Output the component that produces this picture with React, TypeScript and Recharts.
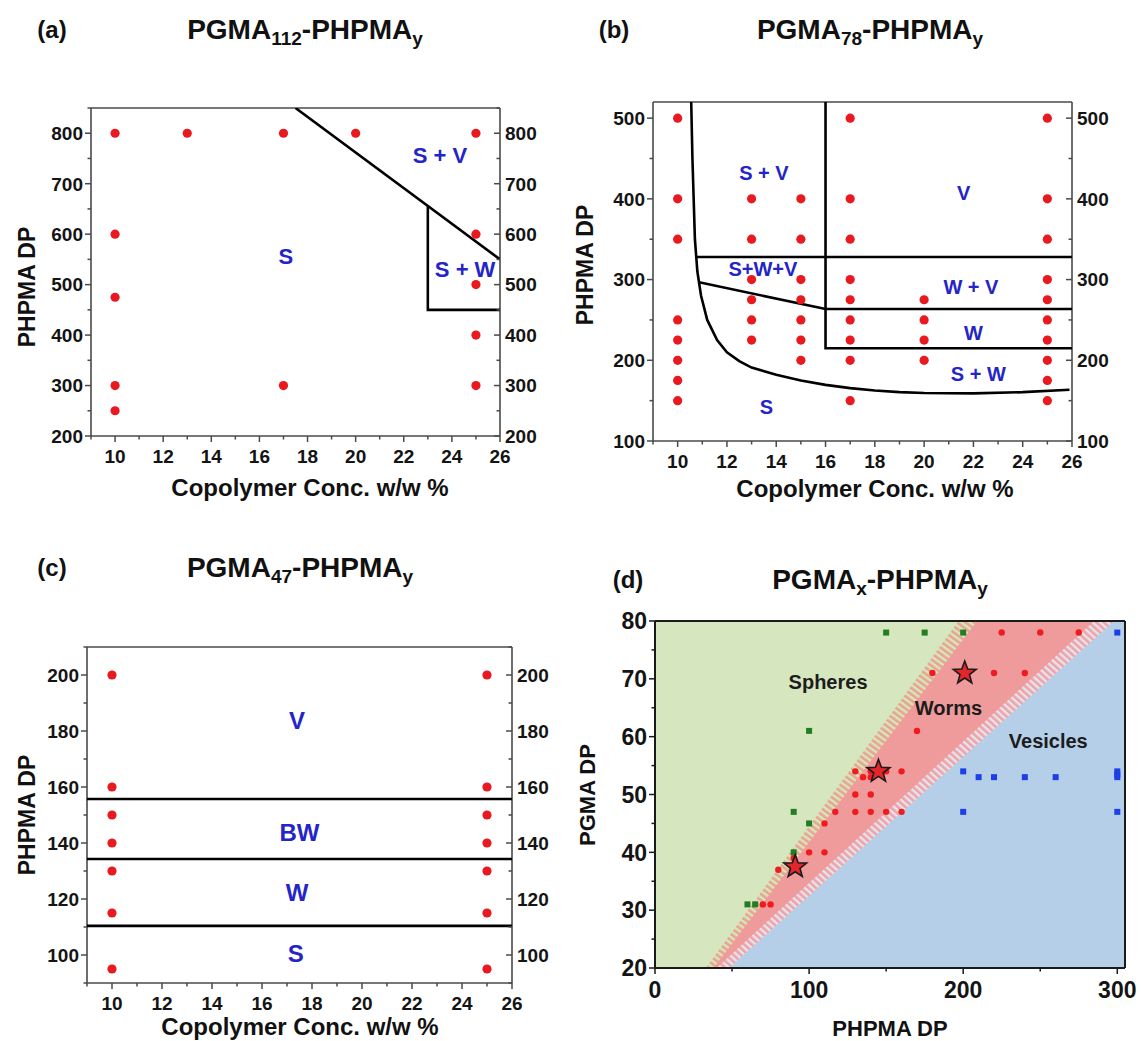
import React from "react";
import { ComposedChart, Scatter, Area, XAxis, YAxis } from "recharts";

const FONT = '"Liberation Sans", Arial, Helvetica, sans-serif';
const DOT_RED = "#e8191f";
const LABEL_BLUE = "#2424c8";
const FRAME = "#4a4a4a";

type Pt = { x: number; y: number };
type Lbl = Pt & { text: string };

// ---------- shared axis ticks for panels a-c ----------
const concTicks = [9, 10, 11, 12, 13, 14, 15, 16, 17, 18, 19, 20, 21, 22, 23, 24, 25, 26];
const concMajor = [10, 12, 14, 16, 18, 20, 22, 24, 26];

// ---------- (a) PGMA112-PHPMAy ----------
const aDpTicks = [200, 250, 300, 350, 400, 450, 500, 550, 600, 650, 700, 750, 800, 850];
const aDpMajor = [200, 300, 400, 500, 600, 700, 800];
const aPoints: Pt[] = [
  { x: 10, y: 800 }, { x: 13, y: 800 }, { x: 17, y: 800 }, { x: 20, y: 800 }, { x: 25, y: 800 },
  { x: 10, y: 600 }, { x: 10, y: 475 }, { x: 10, y: 300 }, { x: 10, y: 250 },
  { x: 17, y: 300 },
  { x: 25, y: 600 }, { x: 25, y: 500 }, { x: 25, y: 400 }, { x: 25, y: 300 },
];
const aDiagonal: Pt[] = [{ x: 17.5, y: 850 }, { x: 26, y: 550 }];
const aWormBox: Pt[] = [{ x: 23, y: 657 }, { x: 23, y: 450 }, { x: 26, y: 450 }];
const aLabels: Lbl[] = [
  { x: 23.5, y: 757, text: "S + V" },
  { x: 17.1, y: 557, text: "S" },
  { x: 24.55, y: 530, text: "S + W" },
];

// ---------- (b) PGMA78-PHPMAy ----------
const bDpTicks = [100, 150, 200, 250, 300, 350, 400, 450, 500];
const bDpMajor = [100, 200, 300, 400, 500];
const bPoints: Pt[] = [
  { x: 10, y: 500 }, { x: 10, y: 400 }, { x: 10, y: 350 }, { x: 10, y: 250 }, { x: 10, y: 225 },
  { x: 10, y: 200 }, { x: 10, y: 175 }, { x: 10, y: 150 },
  { x: 13, y: 400 }, { x: 13, y: 350 }, { x: 13, y: 300 }, { x: 13, y: 275 }, { x: 13, y: 250 }, { x: 13, y: 225 },
  { x: 15, y: 400 }, { x: 15, y: 350 }, { x: 15, y: 300 }, { x: 15, y: 275 }, { x: 15, y: 250 },
  { x: 15, y: 225 }, { x: 15, y: 200 },
  { x: 17, y: 500 }, { x: 17, y: 400 }, { x: 17, y: 350 }, { x: 17, y: 300 }, { x: 17, y: 275 },
  { x: 17, y: 250 }, { x: 17, y: 225 }, { x: 17, y: 200 }, { x: 17, y: 150 },
  { x: 20, y: 275 }, { x: 20, y: 250 }, { x: 20, y: 225 }, { x: 20, y: 200 },
  { x: 25, y: 500 }, { x: 25, y: 400 }, { x: 25, y: 350 }, { x: 25, y: 300 }, { x: 25, y: 275 },
  { x: 25, y: 250 }, { x: 25, y: 225 }, { x: 25, y: 200 }, { x: 25, y: 175 }, { x: 25, y: 150 },
];
const bSphereCurve: Pt[] = [
  { x: 10.55, y: 520 }, { x: 10.6, y: 450 }, { x: 10.65, y: 400 }, { x: 10.7, y: 350 },
  { x: 10.8, y: 310 }, { x: 10.95, y: 280 }, { x: 11.2, y: 250 }, { x: 11.6, y: 225 },
  { x: 12.0, y: 210 }, { x: 12.5, y: 199 }, { x: 13, y: 191 }, { x: 14, y: 182 },
  { x: 15, y: 175 }, { x: 16, y: 169.5 }, { x: 17, y: 165.5 }, { x: 18, y: 162.5 },
  { x: 19, y: 160.5 }, { x: 20, y: 159.5 }, { x: 22, y: 159 }, { x: 24, y: 160.5 }, { x: 25.9, y: 163.5 },
];
const bUpper: Pt[] = [{ x: 10.76, y: 328 }, { x: 26, y: 328 }];
const bMiddle: Pt[] = [{ x: 10.87, y: 296.6 }, { x: 16, y: 263.5 }, { x: 26, y: 263.5 }];
const bWormBox: Pt[] = [{ x: 16, y: 520 }, { x: 16, y: 215 }, { x: 26, y: 215 }];
const bLabels: Lbl[] = [
  { x: 13.5, y: 432, text: "S + V" },
  { x: 21.6, y: 408, text: "V" },
  { x: 13.46, y: 313, text: "S+W+V" },
  { x: 21.9, y: 291.5, text: "W + V" },
  { x: 22.0, y: 234.5, text: "W" },
  { x: 22.2, y: 183, text: "S + W" },
  { x: 13.6, y: 142.5, text: "S" },
];

// ---------- (c) PGMA47-PHPMAy ----------
const cDpTicks = [90, 100, 110, 120, 130, 140, 150, 160, 170, 180, 190, 200, 210];
const cDpMajor = [100, 120, 140, 160, 180, 200];
const cPoints: Pt[] = [
  { x: 10, y: 200 }, { x: 10, y: 160 }, { x: 10, y: 150 }, { x: 10, y: 140 }, { x: 10, y: 130 },
  { x: 10, y: 115 }, { x: 10, y: 95 },
  { x: 25, y: 200 }, { x: 25, y: 160 }, { x: 25, y: 150 }, { x: 25, y: 140 }, { x: 25, y: 130 },
  { x: 25, y: 115 }, { x: 25, y: 95 },
];
const cVesicleLine: Pt[] = [{ x: 9, y: 155.7 }, { x: 26, y: 155.7 }];
const cBranchLine: Pt[] = [{ x: 9, y: 134.3 }, { x: 26, y: 134.3 }];
const cWormLine: Pt[] = [{ x: 9, y: 110.4 }, { x: 26, y: 110.4 }];
const cLabels: Lbl[] = [
  { x: 17.4, y: 183.7, text: "V" },
  { x: 17.5, y: 143.8, text: "BW" },
  { x: 17.4, y: 122.2, text: "W" },
  { x: 17.35, y: 100.6, text: "S" },
];

// ---------- (d) PGMAx-PHPMAy ----------
const dXTicks = [0, 50, 100, 150, 200, 250, 300];
const dXMajor = [0, 100, 200, 300];
const dYTicks = [20, 25, 30, 35, 40, 45, 50, 55, 60, 65, 70, 75, 80];
const dYMajor = [20, 30, 40, 50, 60, 70, 80];
// region edges (each area is filled from y=20 up to the edge)
const greenField: Pt[] = [{ x: 0, y: 80 }, { x: 305, y: 80 }];
const sphereEdge: Pt[] = [{ x: 33, y: 20 }, { x: 197, y: 80 }, { x: 305, y: 80 }];
const wormEdge: Pt[] = [{ x: 38, y: 20 }, { x: 209, y: 80 }, { x: 305, y: 80 }];
const wormOuterEdge: Pt[] = [{ x: 40, y: 20 }, { x: 285, y: 80 }, { x: 305, y: 80 }];
const vesicleEdge: Pt[] = [{ x: 48, y: 20 }, { x: 298, y: 80 }, { x: 305, y: 80 }];
const spheresPts: Pt[] = [
  { x: 150, y: 78 }, { x: 175, y: 78 }, { x: 200, y: 78 }, { x: 100, y: 61 }, { x: 90, y: 47 },
  { x: 100, y: 45 }, { x: 90, y: 40 }, { x: 60, y: 31 }, { x: 65, y: 31 },
];
const wormsPts: Pt[] = [
  { x: 225, y: 78 }, { x: 250, y: 78 }, { x: 275, y: 78 }, { x: 180, y: 71 }, { x: 220, y: 71 },
  { x: 240, y: 71 }, { x: 170, y: 61 }, { x: 130, y: 54 }, { x: 140, y: 54 }, { x: 150, y: 54 },
  { x: 160, y: 54 }, { x: 135, y: 53 }, { x: 140, y: 53 }, { x: 130, y: 50 }, { x: 140, y: 50 },
  { x: 117, y: 47 }, { x: 130, y: 47 }, { x: 140, y: 47 }, { x: 150, y: 47 }, { x: 160, y: 47 },
  { x: 110, y: 45 }, { x: 100, y: 40 }, { x: 110, y: 40 }, { x: 90, y: 39 }, { x: 80, y: 37 },
  { x: 70, y: 31 }, { x: 75, y: 31 },
];
const vesiclesPts: Pt[] = [
  { x: 300, y: 78 }, { x: 200, y: 54 }, { x: 210, y: 53 }, { x: 220, y: 53 }, { x: 240, y: 53 },
  { x: 260, y: 53 }, { x: 300, y: 54 }, { x: 300, y: 53.5 }, { x: 300, y: 53 }, { x: 200, y: 47 },
  { x: 300, y: 47 },
];
const starPts: Pt[] = [{ x: 91, y: 37.5 }, { x: 145, y: 54 }, { x: 201, y: 71 }];
const dLabels: Lbl[] = [
  { x: 112.3, y: 69.5, text: "Spheres" },
  { x: 190.4, y: 65, text: "Worms" },
  { x: 255.2, y: 59.2, text: "Vesicles" },
];

const regionSeries: Record<string, Pt[]> = {
  e0: greenField,
  e1: sphereEdge,
  e2: wormEdge,
  e3: wormOuterEdge,
  e4: vesicleEdge,
};
const regionXs = Array.from(
  new Set(Object.values(regionSeries).flat().map((p) => p.x))
).sort((a, b) => a - b);
const dTable = regionXs.map((x) => {
  const row: Record<string, number> = { x };
  Object.entries(regionSeries).forEach(([k, pts]) => {
    const hit = pts.find((p) => p.x === x);
    if (hit) row[k] = hit.y;
  });
  return row;
});

// ---------- helpers ----------
interface TickProps {
  x?: number;
  y?: number;
  payload?: { value: number };
  side: "left" | "right" | "top" | "bottom";
  majors: number[];
  size: number;
  inward?: boolean;
  color?: string;
}

// Origin-style tick: draws its own tick mark (long for majors, short for minors)
// tickSize/tickMargin are 0, so x/y is the point on the axis line.
function OriginTick({ x = 0, y = 0, payload, side, majors, size, inward = false, color = FRAME }: TickProps) {
  const v = payload?.value ?? 0;
  const major = majors.includes(v);
  const len = major ? 6 : 3.5;
  const out = inward ? -1 : 1;
  const textProps = {
    fontFamily: FONT,
    fontWeight: 700,
    fontSize: size,
    fill: "#141414",
  };
  let x2 = x;
  let y2 = y;
  let label: React.ReactNode = null;
  if (side === "left") {
    x2 = x - out * len;
    if (major)
      label = (
        <text x={x - (inward ? 4 : len + 2)} y={y} dy="0.36em" textAnchor="end" {...textProps}>
          {v}
        </text>
      );
  } else if (side === "right") {
    x2 = x + out * len;
    if (major)
      label = (
        <text x={x + (inward ? 5 : len + 3)} y={y} dy="0.36em" textAnchor="start" {...textProps}>
          {v}
        </text>
      );
  } else if (side === "bottom") {
    y2 = y + out * len;
    if (major)
      label = (
        <text x={x} y={y + (inward ? 8 : len + 7)} dy="0.72em" textAnchor="middle" {...textProps}>
          {v}
        </text>
      );
  } else {
    y2 = y - out * len;
    if (major)
      label = (
        <text x={x} y={y - (inward ? 8 : len + 5)} textAnchor="middle" {...textProps}>
          {v}
        </text>
      );
  }
  return (
    <g>
      <line x1={x} y1={y} x2={x2} y2={y2} stroke={color} strokeWidth={1.5} />
      {label}
    </g>
  );
}

const NoMark = () => <g />;

function Txt({
  x,
  y,
  size,
  rotate = false,
  children,
}: {
  x: number;
  y: number;
  size: number;
  rotate?: boolean;
  children: React.ReactNode;
}) {
  return (
    <div
      style={{
        position: "absolute",
        left: x,
        top: y,
        transform: `translate(-50%, -50%)${rotate ? " rotate(-90deg)" : ""}`,
        fontFamily: FONT,
        fontWeight: 700,
        fontSize: size,
        lineHeight: 1,
        whiteSpace: "nowrap",
        color: "#111",
      }}
    >
      {children}
    </div>
  );
}

function Title({ x, y, pre, sub1, sub2 }: { x: number; y: number; pre: string; sub1: string; sub2: string }) {
  return (
    <Txt x={x} y={y} size={28}>
      {pre}
      <sub style={{ fontSize: 19 }}>{sub1}</sub>-PHPMA<sub style={{ fontSize: 19 }}>{sub2}</sub>
    </Txt>
  );
}

interface Box {
  l: number;
  t: number;
  w: number;
  h: number;
}

function PhasePanel({
  box,
  yDomain,
  yTicks,
  yMajor,
  points,
  boundaries,
  labels,
  labelSize,
}: {
  box: Box;
  yDomain: [number, number];
  yTicks: number[];
  yMajor: number[];
  points: Pt[];
  boundaries: Pt[][];
  labels: Lbl[];
  labelSize: number;
}) {
  const aw = 60;
  const ah = 40;
  const axisLine = { stroke: FRAME, strokeWidth: 1.6 };
  const common = {
    type: "number" as const,
    allowDataOverflow: true,
    interval: 0 as const,
    tickSize: 0,
    tickMargin: 0,
    tickLine: false,
    axisLine,
  };
  return (
    <div style={{ position: "absolute", left: box.l - aw, top: box.t - ah }}>
      <ComposedChart width={box.w + 2 * aw} height={box.h + 2 * ah} margin={{ top: 0, right: 0, bottom: 0, left: 0 }}>
        <XAxis
          {...common}
          dataKey="x"
          domain={[9, 26]}
          ticks={concTicks}
          height={ah}
          orientation="bottom"
          tick={<OriginTick side="bottom" majors={concMajor} size={19} />}
        />
        <XAxis
          {...common}
          xAxisId="top"
          domain={[9, 26]}
          ticks={concTicks}
          height={ah}
          orientation="top"
          tick={<OriginTick side="top" inward majors={concMajor} size={19} />}
        />
        <YAxis
          {...common}
          dataKey="y"
          domain={yDomain}
          ticks={yTicks}
          width={aw}
          orientation="left"
          tick={<OriginTick side="left" majors={yMajor} size={19} />}
        />
        <YAxis
          {...common}
          yAxisId="right"
          domain={yDomain}
          ticks={yTicks}
          width={aw}
          orientation="right"
          tick={<OriginTick side="right" inward majors={yMajor} size={19} />}
        />
        {boundaries.map((seg, i) => (
          <Scatter
            key={i}
            data={seg}
            line={{ stroke: "#000", strokeWidth: 2.6 }}
            lineType="joint"
            shape={NoMark}
            legendType="none"
            isAnimationActive={false}
          />
        ))}
        <Scatter
          data={points}
          isAnimationActive={false}
          shape={(p: any) => <circle cx={p.cx} cy={p.cy} r={4.6} fill={DOT_RED} />}
        />
        <Scatter
          data={labels}
          isAnimationActive={false}
          shape={(p: any) => (
            <text
              x={p.cx}
              y={p.cy}
              dy="0.36em"
              textAnchor="middle"
              fontFamily={FONT}
              fontWeight={700}
              fontSize={labelSize}
              fill={LABEL_BLUE}
            >
              {p.payload.text}
            </text>
          )}
        />
      </ComposedChart>
    </div>
  );
}

function StarMark(p: any) {
  const { cx, cy } = p;
  const R = 12;
  const r = 5;
  const pts = Array.from({ length: 10 }, (_, i) => {
    const a = -Math.PI / 2 + (i * Math.PI) / 5;
    const rad = i % 2 === 0 ? R : r;
    return `${cx + rad * Math.cos(a)},${cy + rad * Math.sin(a)}`;
  }).join(" ");
  return <polygon points={pts} fill="#e3262b" stroke="#1a1a1a" strokeWidth={1.6} />;
}

function MorphologyPanel({ box }: { box: Box }) {
  const aw = 70;
  const ah = 44;
  const padR = 16;
  const padT = 16;
  const frame = { stroke: "#1a1a1a", strokeWidth: 2 };
  const common = {
    type: "number" as const,
    allowDataOverflow: true,
    interval: 0 as const,
    tickSize: 0,
    tickMargin: 0,
    tickLine: false,
    axisLine: frame,
  };
  return (
    <div style={{ position: "absolute", left: box.l - aw, top: box.t - 4 - padT }}>
      <ComposedChart
        width={box.w + aw + 4 + padR}
        height={box.h + ah + 4 + padT}
        data={dTable}
        margin={{ top: padT, right: padR, bottom: 0, left: 0 }}
      >
        <defs>
          <pattern id="hatchGreenRed" width="5" height="5" patternUnits="userSpaceOnUse" patternTransform="rotate(-54)">
            <rect width="5" height="5" fill="#d6e6bf" />
            <rect width="2.6" height="5" fill="#e9a48f" />
          </pattern>
          <pattern id="hatchRedBlue" width="5" height="5" patternUnits="userSpaceOnUse" patternTransform="rotate(-48)">
            <rect width="5" height="5" fill="#e4e3ee" />
            <rect width="2.6" height="5" fill="#efa3a6" />
          </pattern>
        </defs>
        <XAxis
          {...common}
          dataKey="x"
          domain={[0, 305]}
          ticks={dXTicks}
          height={ah}
          orientation="bottom"
          tick={<OriginTick side="bottom" majors={dXMajor} size={23} color="#1a1a1a" />}
        />
        <XAxis {...common} xAxisId="top" domain={[0, 305]} height={4} orientation="top" tick={false} />
        <YAxis
          {...common}
          dataKey="y"
          domain={[20, 80]}
          ticks={dYTicks}
          width={aw}
          orientation="left"
          tick={<OriginTick side="left" majors={dYMajor} size={23} color="#1a1a1a" />}
        />
        <YAxis {...common} yAxisId="right" domain={[20, 80]} width={4} orientation="right" tick={false} />
        <Area dataKey="e0" type="linear" stroke="none" fill="#d6e6bf" fillOpacity={1} connectNulls isAnimationActive={false} />
        <Area dataKey="e1" type="linear" stroke="none" fill="url(#hatchGreenRed)" fillOpacity={1} connectNulls isAnimationActive={false} />
        <Area dataKey="e2" type="linear" stroke="none" fill="#f09b9b" fillOpacity={1} connectNulls isAnimationActive={false} />
        <Area dataKey="e3" type="linear" stroke="none" fill="url(#hatchRedBlue)" fillOpacity={1} connectNulls isAnimationActive={false} />
        <Area dataKey="e4" type="linear" stroke="none" fill="#b6cfe8" fillOpacity={1} connectNulls isAnimationActive={false} />
        <Scatter
          data={spheresPts}
          isAnimationActive={false}
          shape={(p: any) => <rect x={p.cx - 3} y={p.cy - 3} width={6} height={6} fill="#1f7f22" />}
        />
        <Scatter
          data={wormsPts}
          isAnimationActive={false}
          shape={(p: any) => <circle cx={p.cx} cy={p.cy} r={3.2} fill="#ef1b1f" />}
        />
        <Scatter
          data={vesiclesPts}
          isAnimationActive={false}
          shape={(p: any) => <rect x={p.cx - 3} y={p.cy - 3} width={6} height={6} fill="#1d3fe6" />}
        />
        <Scatter data={starPts} isAnimationActive={false} shape={StarMark} />
        <Scatter
          data={dLabels}
          isAnimationActive={false}
          shape={(p: any) => (
            <text
              x={p.cx}
              y={p.cy}
              dy="0.36em"
              textAnchor="middle"
              fontFamily={FONT}
              fontWeight={700}
              fontSize={20}
              fill="#1c1c1c"
            >
              {p.payload.text}
            </text>
          )}
        />
      </ComposedChart>
    </div>
  );
}

export default function App() {
  return (
    <div
      style={{
        position: "absolute",
        left: 0,
        top: 0,
        width: 1141,
        height: 1041,
        overflow: "hidden",
        background: "#fff",
      }}
    >
      {/* (a) */}
      <Txt x={52} y={30} size={24}>(a)</Txt>
      <Title x={305} y={32} pre="PGMA" sub1="112" sub2="y" />
      <PhasePanel
        box={{ l: 91, t: 108, w: 409, h: 328 }}
        yDomain={[200, 850]}
        yTicks={aDpTicks}
        yMajor={aDpMajor}
        points={aPoints}
        boundaries={[aDiagonal, aWormBox]}
        labels={aLabels}
        labelSize={22}
      />
      <Txt x={310} y={488} size={24}>Copolymer Conc. w/w %</Txt>
      <Txt x={27} y={287} size={23} rotate>PHPMA DP</Txt>

      {/* (b) */}
      <Txt x={614} y={30} size={24}>(b)</Txt>
      <Title x={870} y={32} pre="PGMA" sub1="78" sub2="y" />
      <PhasePanel
        box={{ l: 653, t: 102, w: 419, h: 339 }}
        yDomain={[100, 520]}
        yTicks={bDpTicks}
        yMajor={bDpMajor}
        points={bPoints}
        boundaries={[bSphereCurve, bUpper, bMiddle, bWormBox]}
        labels={bLabels}
        labelSize={20}
      />
      <Txt x={875} y={489} size={24}>Copolymer Conc. w/w %</Txt>
      <Txt x={585} y={265} size={23} rotate>PHPMA DP</Txt>

      {/* (c) */}
      <Txt x={52} y={568} size={24}>(c)</Txt>
      <Title x={300} y={570} pre="PGMA" sub1="47" sub2="y" />
      <PhasePanel
        box={{ l: 87, t: 647, w: 425, h: 336 }}
        yDomain={[90, 210]}
        yTicks={cDpTicks}
        yMajor={cDpMajor}
        points={cPoints}
        boundaries={[cVesicleLine, cBranchLine, cWormLine]}
        labels={cLabels}
        labelSize={24}
      />
      <Txt x={300} y={1027} size={24}>Copolymer Conc. w/w %</Txt>
      <Txt x={27} y={815} size={23} rotate>PHPMA DP</Txt>

      {/* (d) */}
      <Txt x={628} y={580} size={24}>(d)</Txt>
      <Title x={880} y={582} pre="PGMA" sub1="x" sub2="y" />
      <MorphologyPanel box={{ l: 655, t: 621, w: 470, h: 347 }} />
      <Txt x={890} y={1029} size={22}>PHPMA DP</Txt>
      <Txt x={588} y={795} size={22} rotate>PGMA DP</Txt>
    </div>
  );
}
